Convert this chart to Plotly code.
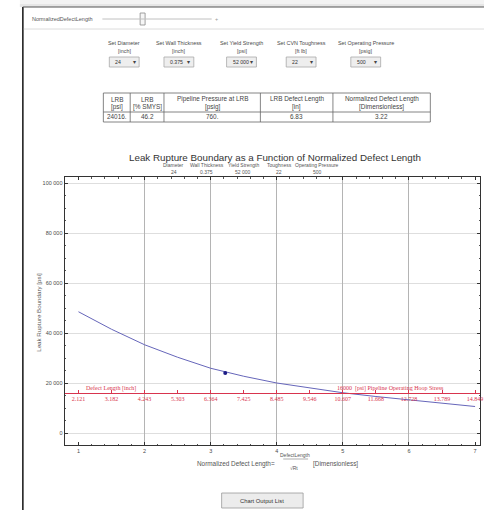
import plotly.graph_objects as go

W, H = 487, 510

# ---------------- data ----------------
norm_len = [1.0, 1.5, 2.0, 2.5, 3.0, 3.5, 4.0, 4.5, 5.0, 5.5, 6.0, 6.5, 7.0]
lrb_psi = [48500, 41500, 35300, 30300, 25900, 22700, 20000, 17900, 16100, 14600, 13300, 12000, 10600]
point_x = [3.22]
point_y = [24016]
hoop_stress = 16000
defect_tick_pos = [1.0, 1.5, 2.0, 2.5, 3.0, 3.5, 4.0, 4.5, 5.0, 5.5, 6.0, 6.5, 7.0]
defect_tick_labels = ["2.121", "3.182", "4.243", "5.303", "6.364", "7.425", "8.485",
                      "9.546", "10.607", "11.668", "12.728", "13.789", "14.849"]
x_ticks = [1, 2, 3, 4, 5, 6, 7]
v_grid = [2, 3, 4, 5, 6]
y_ticks = [0, 20000, 40000, 60000, 80000, 100000]
y_tick_labels = ["0", "20 000", "40 000", "60 000", "80 000", "100 000"]

control_labels = ["Set Diameter", "Set Wall Thickness", "Set Yield Strength",
                  "Set CVN Toughness", "Set Operating Pressure"]
control_units = ["[inch]", "[inch]", "[psi]", "[ft lb]", "[psig]"]
control_values = ["24", "0.375", "52 000", "22", "500"]
param_names = ["Diameter", "Wall Thickness", "Yield Strength", "Toughness", "Operating Pressure"]
param_values = ["24", "0.375", "52 000", "22", "500"]
table_head1 = ["LRB", "LRB", "Pipeline Pressure at LRB", "LRB Defect Length", "Normalized Defect Length"]
table_head2 = ["[psi]", "[% SMYS]", "[psig]", "[in]", "[Dimensionless]"]
table_row = ["24016.", "46.2", "760.", "6.83", "3.22"]

# ---------------- helpers ----------------
def X(px):
    return px / W

def Y(py):
    return 1 - py / H

SANS = "Liberation Sans, Arial, sans-serif"
SERIF = "Liberation Serif, Times New Roman, serif"
RED = "#d8344e"
GRAYTXT = "#4a4a4a"

x_range = [0.79, 7.075]
y_range = [-4800, 102400]
x_dom = [X(65), X(483)]
y_dom = [Y(445), Y(177)]
hoop_pos = y_dom[0] + (hoop_stress - y_range[0]) / (y_range[1] - y_range[0]) * (y_dom[1] - y_dom[0])

fig = go.Figure()

# base invisible trace (draws base axes)
fig.add_trace(go.Scatter(x=norm_len, y=lrb_psi, xaxis="x", yaxis="y", mode="lines",
                         line=dict(width=0), opacity=0, hoverinfo="skip", showlegend=False))
# red defect-length axis trace (invisible)
fig.add_trace(go.Scatter(x=defect_tick_pos, y=[hoop_stress] * len(defect_tick_pos), xaxis="x3", yaxis="y",
                         mode="lines", line=dict(width=0), opacity=0, hoverinfo="skip", showlegend=False))
# main curve
fig.add_trace(go.Scatter(x=norm_len, y=lrb_psi, xaxis="x2", yaxis="y", mode="lines",
                         line=dict(color="#6666ba", width=1), hoverinfo="skip", showlegend=False))
fig.add_trace(go.Scatter(x=point_x, y=point_y, xaxis="x2", yaxis="y", mode="markers",
                         marker=dict(color="#1c1c86", size=4), hoverinfo="skip", showlegend=False))

tickfont = dict(family=SANS, size=5.5, color=GRAYTXT)

fig.update_layout(
    width=W, height=H, margin=dict(l=0, r=0, t=0, b=0),
    paper_bgcolor="white", plot_bgcolor="white",
    xaxis=dict(domain=x_dom, range=x_range, tickmode="array", tickvals=x_ticks,
               ticktext=[str(v) for v in x_ticks], ticks="inside", ticklen=3, tickcolor="#333",
               showline=True, linecolor="#333", linewidth=1, mirror="ticks", showgrid=False,
               zeroline=False, tickfont=tickfont,
               minor=dict(tickmode="linear", tick0=0, dtick=0.2, ticks="inside", ticklen=1.5,
                          tickcolor="#555", showgrid=False)),
    xaxis2=dict(overlaying="x", matches="x", range=x_range, anchor="y", tickmode="array",
                tickvals=v_grid, showticklabels=False, ticks="", showline=False, showgrid=True,
                gridcolor="#b4b4b4", gridwidth=1, zeroline=False),
    xaxis3=dict(overlaying="x", matches="x", range=x_range, anchor="free", position=hoop_pos,
                side="bottom", tickmode="array", tickvals=defect_tick_pos, ticktext=defect_tick_labels,
                ticks="inside", ticklen=3, tickcolor=RED, showline=True, linecolor=RED, linewidth=0.8,
                showgrid=False, zeroline=False, tickfont=dict(family=SERIF, size=6, color=RED)),
    yaxis=dict(domain=y_dom, range=y_range, tickmode="array", tickvals=y_ticks, ticktext=y_tick_labels,
               ticks="inside", ticklen=3, tickcolor="#333", showline=True, linecolor="#333", linewidth=1,
               mirror="ticks", showgrid=True, gridcolor="#dedede", gridwidth=1, zeroline=False,
               tickfont=tickfont,
               minor=dict(tickmode="linear", tick0=0, dtick=5000, ticks="inside", ticklen=1.5,
                          tickcolor="#555", showgrid=False)),
)

shapes = []
ann = []

def line(x0, y0, x1, y1, color, width=1):
    shapes.append(dict(type="line", xref="paper", yref="paper", x0=X(x0), y0=Y(y0), x1=X(x1), y1=Y(y1),
                       line=dict(color=color, width=width)))

def rect(x0, y0, x1, y1, fill, color, width=1):
    shapes.append(dict(type="rect", xref="paper", yref="paper", x0=X(x0), y0=Y(y0), x1=X(x1), y1=Y(y1),
                       fillcolor=fill, line=dict(color=color, width=width), layer="below"))

def text(px, py, s, size=5.5, color=GRAYTXT, anchor="center", family=SANS, angle=0):
    ann.append(dict(xref="paper", yref="paper", x=X(px), y=Y(py), text=s, showarrow=False,
                    xanchor=anchor, yanchor="middle", textangle=angle,
                    font=dict(family=family, size=size, color=color)))

# window frame
rect(20, 0, 487, 7, "#f3f3f3", "rgba(0,0,0,0)", 0)
rect(20, 4, 487, 7, "#e6e6e6", "rgba(0,0,0,0)", 0)
line(23, 7, 23, 510, "#222", 1.6)
line(23, 7, 487, 7, "#555", 1)
line(24, 29, 487, 29, "#dcdcdc", 1)

# slider
text(30, 19, "NormalizedDefectLength", 5.5, "#555", "left")
line(103, 19, 213, 19, "#c0c0c0", 1)
rect(141, 13, 146, 25, "#f6f6f6", "#8a8a8a", 0.8)
text(218, 19, "+", 5.5, "#999")

# dropdown controls
ctrl_cx = [125, 180, 243, 303, 368]
for cx, lab, unit, val in zip(ctrl_cx, control_labels, control_units, control_values):
    text(cx, 43, lab, 5.4)
    text(cx, 51, unit, 5.4)
    rect(cx - 15, 57, cx + 15, 67, "#eeeeee", "#a8a8a8", 0.8)
    text(cx - 11, 62, val, 5.2, "#333", "left")
    text(cx + 10, 62, "▾", 5.5, "#444")

# results table
tx = [104, 131, 165, 262, 335, 433]
rect(tx[0], 93, tx[-1], 122, "rgba(0,0,0,0)", "#666", 0.8)
for xv in tx[1:-1]:
    line(xv, 93, xv, 122, "#666", 0.8)
line(tx[0], 112, tx[-1], 112, "#666", 0.8)
for i in range(5):
    cx = (tx[i] + tx[i + 1]) / 2
    text(cx, 99.5, table_head1[i], 6.4, "#444")
    text(cx, 106.5, table_head2[i], 6.4, "#444")
    text(cx, 117, table_row[i], 6.4, "#444")

# chart title block
text(277, 157, "Leak Rupture Boundary as a Function of Normalized Defect Length", 9.8, "#333")
sub_cx = [175, 208, 245, 281, 319]
for cx, nm, v in zip(sub_cx, param_names, param_values):
    text(cx, 165.5, nm, 5, "#555")
    text(cx, 172, v, 5, "#555")

# axis titles
text(38, 312, "Leak Rupture Boundary [psi]", 6.2, "#555", angle=-90)
text(279, 464, "Normalized Defect Length=", 6.4, "#555", "right")
text(297, 455, "DefectLength", 5, "#555")
line(285, 459, 310, 459, "#777", 0.6)
text(296, 468, "√Rt", 5, "#555")
text(313, 464, "[Dimensionless]", 6.4, "#555", "left")

# red annotations (data coords)
ann.append(dict(xref="x", yref="y", x=1.09, y=hoop_stress, text="Defect Length [inch]", showarrow=False,
                xanchor="left", yanchor="bottom", yshift=-1, font=dict(family=SERIF, size=6, color=RED)))
ann.append(dict(xref="x", yref="y", x=4.88, y=hoop_stress,
                text=f"{hoop_stress}  [psi] Pipeline Operating Hoop Stress", showarrow=False,
                xanchor="left", yanchor="bottom", yshift=-1, font=dict(family=SERIF, size=6, color=RED)))

# button
rect(223, 493, 305, 508, "#ececec", "#9a9a9a", 0.8)
text(264, 500.5, "Chart Output List", 5.8, "#333")

fig.update_layout(shapes=shapes, annotations=ann)
fig.write_html("out.html")
